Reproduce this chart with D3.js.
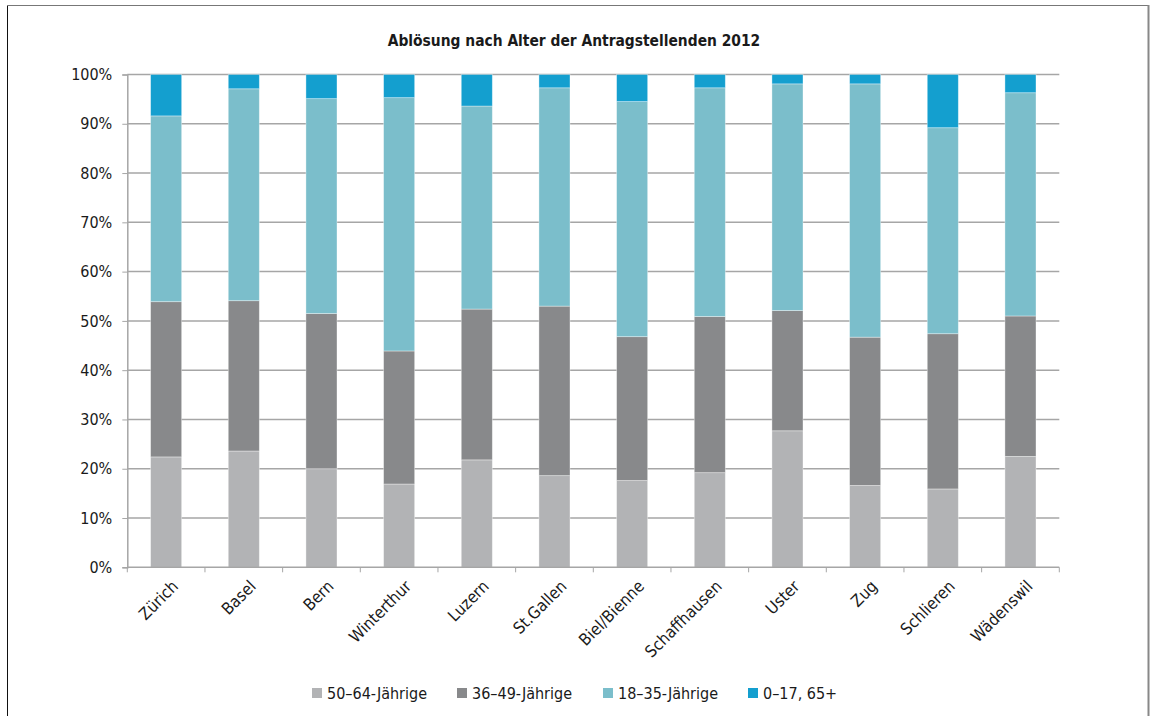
<!DOCTYPE html>
<html>
<head>
<meta charset="utf-8">
<script src="https://cdn.jsdelivr.net/npm/d3@7"></script>
<style>
  html, body { margin: 0; padding: 0; background: #fff; }
  svg { display: block; }
  text { font-family: "DejaVu Sans Condensed", "Liberation Sans Narrow", sans-serif; fill: #1a1a1a; }
</style>
</head>
<body>
<svg id="chart" width="1157" height="716"></svg>
<script>
// Share of applicants per age group (in %), stacked per city
const cities = ["Zürich", "Basel", "Bern", "Winterthur", "Luzern", "St.Gallen",
  "Biel/Bienne", "Schaffhausen", "Uster", "Zug", "Schlieren", "Wädenswil"];
const seriesNames = ["50–64-Jährige", "36–49-Jährige", "18–35-Jährige", "0–17, 65+"];
const age50to64 = [22.4, 23.6, 20.0, 16.9, 21.8, 18.6, 17.6, 19.2, 27.7, 16.6, 15.9, 22.5];
const age36to49 = [31.5, 30.5, 31.5, 27.0, 30.6, 34.4, 29.2, 31.7, 24.4, 30.1, 31.5, 28.5];
const age18to35 = [37.7, 43.0, 43.6, 51.4, 41.2, 44.3, 47.7, 46.4, 46.0, 51.4, 41.8, 45.3];
const ageOther  = [8.4, 2.9, 4.9, 4.7, 6.4, 2.7, 5.5, 2.7, 1.9, 1.9, 10.8, 3.7];
const yTicks = [0, 10, 20, 30, 40, 50, 60, 70, 80, 90, 100];
const colors = ["#b2b3b5", "#88898b", "#7bbecb", "#149fcf"];

const svg = d3.select("#chart");

// outer frame
svg.append("line").attr("x1", 7.5).attr("x2", 7.5).attr("y1", 5).attr("y2", 716)
  .attr("stroke", "#111").attr("stroke-width", 1);
svg.append("line").attr("x1", 7).attr("x2", 1149).attr("y1", 5.5).attr("y2", 5.5)
  .attr("stroke", "#777").attr("stroke-width", 1);
svg.append("line").attr("x1", 1148.5).attr("x2", 1148.5).attr("y1", 5).attr("y2", 716)
  .attr("stroke", "#888").attr("stroke-width", 2);

svg.append("text").attr("x", 574).attr("y", 46).attr("text-anchor", "middle")
  .style("font-size", "15.4px").style("font-weight", "bold")
  .text("Ablösung nach Alter der Antragstellenden 2012");

const plotLeft = 127.3, plotRight = 1059.3, plotTop = 74.5, plotBottom = 567.3;

const x = d3.scaleBand().domain(cities).range([plotLeft, plotRight]).paddingInner(0.6).paddingOuter(0.3);
const y = d3.scaleLinear().domain([0, 100]).range([plotBottom, plotTop]);

// gridlines
svg.append("g").selectAll("line").data(yTicks.filter(d => d > 0)).join("line")
  .attr("x1", plotLeft).attr("x2", plotRight)
  .attr("y1", d => y(d)).attr("y2", d => y(d))
  .attr("stroke", "#a6a6a6").attr("stroke-width", 1.5);

// y axis
const yAxis = svg.append("g").attr("transform", `translate(${plotLeft},0)`)
  .call(d3.axisLeft(y).tickValues(yTicks).tickFormat(d => d + "%").tickSize(5).tickPadding(10));
yAxis.select(".domain").attr("stroke", "#a6a6a6").attr("stroke-width", 1.5);
yAxis.selectAll(".tick line").attr("stroke", "#a6a6a6");
yAxis.selectAll(".tick text").style("font-size", "16px").attr("fill", "#1a1a1a");

// stacked bars
const rows = cities.map((c, i) => ({
  city: c,
  [seriesNames[0]]: age50to64[i],
  [seriesNames[1]]: age36to49[i],
  [seriesNames[2]]: age18to35[i],
  [seriesNames[3]]: ageOther[i]
}));
const stacked = d3.stack().keys(seriesNames)(rows);

svg.append("g").selectAll("g").data(stacked).join("g")
  .attr("fill", (d, i) => colors[i])
  .selectAll("rect").data(d => d).join("rect")
  .attr("x", d => x(d.data.city))
  .attr("width", x.bandwidth())
  .attr("y", d => y(d[1]))
  .attr("height", d => y(d[0]) - y(d[1]))
  .attr("stroke", "rgba(255,255,255,0.45)").attr("stroke-width", 0.8);

// x axis with ticks between categories
const xg = svg.append("g").attr("transform", `translate(0,${plotBottom})`);
xg.append("line").attr("x1", plotLeft).attr("x2", plotRight).attr("y1", 0).attr("y2", 0)
  .attr("stroke", "#a6a6a6").attr("stroke-width", 1.5);
const step = x.step();
xg.selectAll("line.tk").data(d3.range(cities.length + 1)).join("line").attr("class", "tk")
  .attr("x1", i => plotLeft + i * step).attr("x2", i => plotLeft + i * step)
  .attr("y1", 0).attr("y2", 5).attr("stroke", "#a6a6a6").attr("stroke-width", 1);
xg.selectAll("text").data(cities).join("text")
  .attr("transform", d => `translate(${x(d) + x.bandwidth() / 2 + 9},${16}) rotate(-45)`)
  .attr("text-anchor", "end").attr("dy", "0.35em")
  .style("font-size", "16.5px")
  .text(d => d);

// legend
const legendX = [312, 457, 603, 748];
const lg = svg.append("g").selectAll("g").data(seriesNames).join("g")
  .attr("transform", (d, i) => `translate(${legendX[i]},693)`);
lg.append("rect").attr("x", 0).attr("y", -5).attr("width", 10).attr("height", 10)
  .attr("fill", (d, i) => colors[i]);
lg.append("text").attr("x", 15).attr("y", 0).attr("dy", "0.35em")
  .style("font-size", "16px").text(d => d);
</script>
</body>
</html>
